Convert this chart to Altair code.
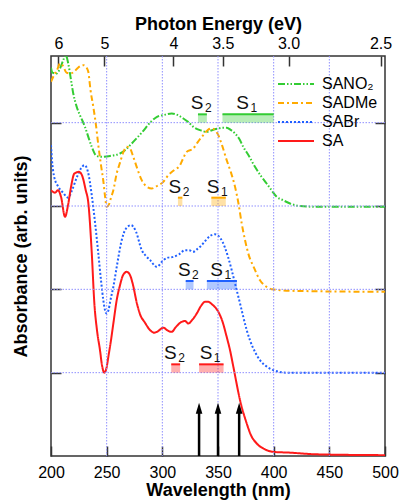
import altair as alt
import pandas as pd

SERIES = ["SANO₂", "SADMe", "SABr", "SA"]
OFFSETS = [3, 2, 1, 0]
COLORS = ["#33cc33", "#ffaa00", "#2060ff", "#ff1a1a"]
DASHES = [[7, 2, 1.5, 2, 1.5, 2], [6, 3, 2, 3], [2, 2], [1, 0]]

WL_SANO2 = [200, 201.2, 205.1, 208.1, 211, 213.2, 215.5, 218, 220, 223.1, 226, 230.5, 233.5, 236.6, 241,
            245.5, 253, 262, 266.5, 272.5, 281.5, 290.5, 295.2, 300.9, 308.4, 314.1, 318.8, 323.1, 327.8,
            333.8, 339.9, 344.6, 350.3, 354.2, 357.8, 361.7, 365.3, 368.9, 372.7, 377.8, 383.2, 388.6,
            393.7, 398.1, 402.7, 408.4, 414.7, 423.7, 441.6, 500]
ABS_SANO2 = [1.66, 1.60, 1.59, 1.65, 1.75, 1.81, 1.71, 1.51, 1.35, 1.19, 1.09, 0.95, 0.83, 0.71, 0.60,
             0.59, 0.60, 0.63, 0.67, 0.75, 0.88, 1.02, 1.07, 1.09, 1.11, 1.09, 1.05, 1.01, 0.95,
             0.91, 0.89, 0.91, 0.93, 0.94, 0.94, 0.91, 0.87, 0.81, 0.71, 0.60, 0.47, 0.36,
             0.27, 0.19, 0.11, 0.07, 0.03, 0.0, -0.01, -0.01]

WL_SADME = [200, 202.7, 205.4, 208.1, 210.8, 213.9, 217.1, 220.7, 224.3, 229, 231.4, 233.5, 235.5, 238,
            240.4, 242.5, 244.9, 247, 248.7, 250, 252.1, 253.9, 256, 259, 262, 265.1, 268, 271, 273.9,
            277.2, 281.5, 285.3, 290.5, 295.2, 300.9, 305.4, 310.5, 315.9, 319, 321.9, 327.8, 332,
            336.8, 340.6, 344.3, 347.3, 350.3, 353.6, 357.8, 361.7, 365.3, 368.4, 371.3, 374.3, 377.2,
            382.3, 387.7, 393.7, 398.5, 405.7, 423.7, 500]
ABS_SADME = [2.49, 2.57, 2.63, 2.71, 2.68, 2.60, 2.59, 2.61, 2.66, 2.69, 2.67, 2.61, 2.39, 2.19,
             1.97, 1.73, 1.49, 1.30, 1.10, 0.99, 1.02, 1.10, 1.19, 1.39, 1.52, 1.65, 1.71, 1.69, 1.59,
             1.46, 1.31, 1.24, 1.21, 1.24, 1.29, 1.37, 1.43, 1.49, 1.58, 1.65, 1.69, 1.77,
             1.85, 1.91, 1.93, 1.91, 1.85, 1.73, 1.55, 1.40, 1.23, 1.03, 0.79, 0.59, 0.43,
             0.26, 0.11, 0.03, 0.0, -0.01, -0.02, -0.03]

WL_SABR = [200, 200.9, 202.7, 206.6, 210.8, 215.5, 218.9, 223.1, 226.9, 230.1, 233.2, 236.6, 239.5,
           242.5, 244.9, 247, 248.5, 249.9, 251.6, 253.4, 256, 259.3, 263.5, 267.4, 271.9, 276.4, 281.5,
           285.3, 289, 295, 300.9, 305.1, 309.9, 315, 320.4, 324, 327.8, 331.1, 335.4, 339.2, 342.8,
           347.3, 351.8, 356.3, 359, 362.3, 366.8, 369.8, 372.7, 375.8, 378.7, 383.2, 387.7, 393.1,
           399.7, 411.7, 441.6, 500]
ABS_SABR = [2.73, 2.55, 2.36, 2.23, 2.16, 2.10, 2.19, 2.34, 2.45, 2.49, 2.41, 2.13, 1.81,
            1.43, 1.11, 0.87, 0.75, 0.71, 0.75, 0.87, 1.03, 1.29, 1.59, 1.73, 1.77, 1.69, 1.47,
            1.40, 1.35, 1.27, 1.35, 1.38, 1.39, 1.42, 1.47, 1.47, 1.45, 1.48, 1.53, 1.59, 1.64,
            1.66, 1.62, 1.50, 1.39, 1.23, 0.99, 0.83, 0.67, 0.51, 0.39, 0.25, 0.15, 0.08,
            0.03, 0.0, 0.0, 0.0]

WL_SA = [200, 203.6, 206.3, 209, 212.6, 215.3, 218, 221, 225.2, 227.8, 231.2, 233.5, 236.6, 238.9,
         241.3, 244, 245.8, 247.9, 249.9, 251.5, 253.9, 256, 259, 262, 264.7, 268, 271, 273.7, 277,
         280, 284.4, 289, 292.8, 295.2, 301, 304.2, 308.4, 312.3, 317.4, 320.4, 323.3, 326.7, 330.9,
         334.7, 338.3, 341.3, 344.6, 350.3, 353.6, 357.8, 360.8, 363.8, 369.8, 375.8, 379.6, 384.8,
         392.2, 399.7, 414.7, 438.7, 500]
ABS_SA = [3.19, 3.16, 3.19, 3.11, 2.87, 3.01, 3.23, 3.39, 3.41, 3.37, 3.19, 3.04, 2.44, 1.84,
          1.51, 1.27, 1.09, 1.00, 1.06, 1.19, 1.39, 1.59, 1.87, 2.05, 2.17, 2.21, 2.17, 2.05, 1.84,
          1.70, 1.60, 1.51, 1.48, 1.49, 1.54, 1.51, 1.49, 1.55, 1.61, 1.62, 1.59, 1.63, 1.71,
          1.80, 1.85, 1.85, 1.82, 1.73, 1.63, 1.43, 1.27, 1.07, 0.67, 0.39, 0.25, 0.15,
          0.08, 0.05, 0.04, 0.02, 0.01]

S1_RANGES = [(354, 400), (344, 357), (340, 367), (333, 355)]
S2_RANGES = [(332, 340), (314, 318), (321, 328), (308, 316)]
ARROW_WL = [333, 350, 369]
ARROW_TIP = 0.64

WAVELENGTH_TICKS = [200, 250, 300, 350, 400, 450, 500]
ENERGY_TICKS = [6, 5, 4, 3.5, 3.0, 2.5]
GRID_WL = [250, 300, 350, 400, 450]
GRID_Y = [1, 2, 3, 4]

# ---------------------------------------------------------------- tables
curves = [(WL_SANO2, ABS_SANO2), (WL_SADME, ABS_SADME), (WL_SABR, ABS_SABR), (WL_SA, ABS_SA)]
rows = []
for name, off, (wl, ab) in zip(SERIES, OFFSETS, curves):
    for w, a in zip(wl, ab):
        rows.append({"series": name, "wl": w, "a": a + off})
df = pd.DataFrame(rows)

BAR_H = 0.1
bars = []
for name, off, s1, s2 in zip(SERIES, OFFSETS, S1_RANGES, S2_RANGES):
    for sub, (a, b) in (("1", s1), ("2", s2)):
        bars.append({"series": name, "S": "S", "sub": sub, "x1": a, "x2": b, "mid": (a + b) / 2,
                     "base": off + 1, "top": off + 1 + BAR_H})
df_bars = pd.DataFrame(bars)

df_arrow = pd.DataFrame({"wl": ARROW_WL, "y0": [0] * len(ARROW_WL),
                         "y1": [ARROW_TIP - 0.08] * len(ARROW_WL), "tip": [ARROW_TIP] * len(ARROW_WL)})
df_gv = pd.DataFrame({"gx": GRID_WL})
df_gh = pd.DataFrame({"gy": GRID_Y})

xs = alt.Scale(domain=[200, 500], nice=False, zero=False)
ys = alt.Scale(domain=[0, 4.8], nice=False, zero=False)
cs = alt.Scale(domain=SERIES, range=COLORS)
ds = alt.Scale(domain=SERIES, range=DASHES)

GRIDC = "#8f8fff"
FONT = "Liberation Sans"

bottom_axis = alt.Axis(orient="bottom", values=WAVELENGTH_TICKS, title="Wavelength (nm)", offset=-10,
                       tickSize=10, domain=False, grid=False, labelPadding=8, titlePadding=1,
                       labelFlush=False, labelOverlap=False, format="d")
top_axis = alt.Axis(orient="top", values=[1240 / e for e in ENERGY_TICKS], title="Photon Energy (eV)",
                    offset=-10, tickSize=10, domain=False, grid=False, labelPadding=5, titlePadding=2,
                    labelFlush=False, labelOverlap=False,
                    labelExpr="1240/datum.value >= 3.99 ? format(1240/datum.value, '.0f') : format(1240/datum.value, '.1f')")
left_axis = alt.Axis(orient="left", values=GRID_Y, labels=False, title="Absorbance (arb. units)",
                     offset=-10, tickSize=10, domain=False, grid=False, titlePadding=20)
right_axis = alt.Axis(orient="right", values=GRID_Y, labels=False, title=None,
                      offset=-10, tickSize=10, domain=False, grid=False)

grid_v = alt.Chart(df_gv).mark_rule(color=GRIDC, strokeDash=[1.5, 1.5], strokeWidth=1).encode(
    x=alt.X("gx:Q", scale=xs, axis=bottom_axis))
grid_h = alt.Chart(df_gh).mark_rule(color=GRIDC, strokeDash=[1.5, 1.5], strokeWidth=1).encode(
    y=alt.Y("gy:Q", scale=ys, axis=left_axis))

rect = alt.Chart(df_bars).mark_rect(opacity=0.35).encode(
    x=alt.X("x1:Q", scale=xs, axis=None), x2="x2:Q",
    y=alt.Y("top:Q", scale=ys, axis=None), y2="base:Q",
    color=alt.Color("series:N", scale=cs, legend=None))
rect_top = alt.Chart(df_bars).mark_rule(strokeWidth=2).encode(
    x=alt.X("x1:Q", scale=xs, axis=None), x2="x2:Q",
    y=alt.Y("top:Q", scale=ys, axis=None),
    color=alt.Color("series:N", scale=cs, legend=None))
s_main = alt.Chart(df_bars).mark_text(fontSize=19, font=FONT, baseline="alphabetic", align="right",
                                      dx=1, dy=-5, color="#111").encode(
    x=alt.X("mid:Q", scale=xs, axis=None), y=alt.Y("top:Q", scale=ys, axis=None), text="S:N")
s_sub = alt.Chart(df_bars).mark_text(fontSize=12, font=FONT, baseline="alphabetic", align="left",
                                     dx=2.5, dy=-2, color="#111").encode(
    x=alt.X("mid:Q", scale=xs, axis=None), y=alt.Y("top:Q", scale=ys, axis=None), text="sub:N")

legend = alt.Legend(orient="none", legendX=235, legendY=18, title=None, labelFont=FONT, labelFontSize=16,
                    symbolType="M-2,0L2,0", symbolSize=324, symbolStrokeWidth=2, labelOffset=16,
                    rowPadding=1)
lines = alt.Chart(df).mark_line(interpolate="monotone", strokeWidth=2, clip=True).encode(
    x=alt.X("wl:Q", scale=xs, axis=top_axis),
    y=alt.Y("a:Q", scale=ys, axis=right_axis),
    color=alt.Color("series:N", scale=cs, legend=legend),
    strokeDash=alt.StrokeDash("series:N", scale=ds, legend=legend),
)

shaft = alt.Chart(df_arrow).mark_rule(color="black", strokeWidth=2.5).encode(
    x=alt.X("wl:Q", scale=xs, axis=None), y=alt.Y("y0:Q", scale=ys, axis=None), y2="y1:Q")
head = alt.Chart(df_arrow).mark_point(shape="M0,0L-0.6,2L0.6,2Z", size=121, filled=True,
                                      color="black", opacity=1).encode(
    x=alt.X("wl:Q", scale=xs, axis=None), y=alt.Y("tip:Q", scale=ys, axis=None))

chart = alt.layer(lines, grid_v, grid_h, rect, rect_top, s_main, s_sub, shaft, head).resolve_axis(
    x="independent", y="independent"
).resolve_legend(color="independent", strokeDash="independent").properties(
    width=334, height=400,
    autosize=alt.AutoSizeParams(type="none"),
    padding={"left": 51, "top": 56, "right": 14, "bottom": 45},
).configure_view(stroke="#333", strokeWidth=1.5).configure_axis(
    labelFont=FONT, titleFont=FONT, labelFontSize=16, titleFontSize=18, titleFontWeight="bold",
    tickColor="#333", tickWidth=1.5, labelColor="#000", titleColor="#000"
)

chart.save("out.html", embed_options={"renderer": "svg", "actions": False})
